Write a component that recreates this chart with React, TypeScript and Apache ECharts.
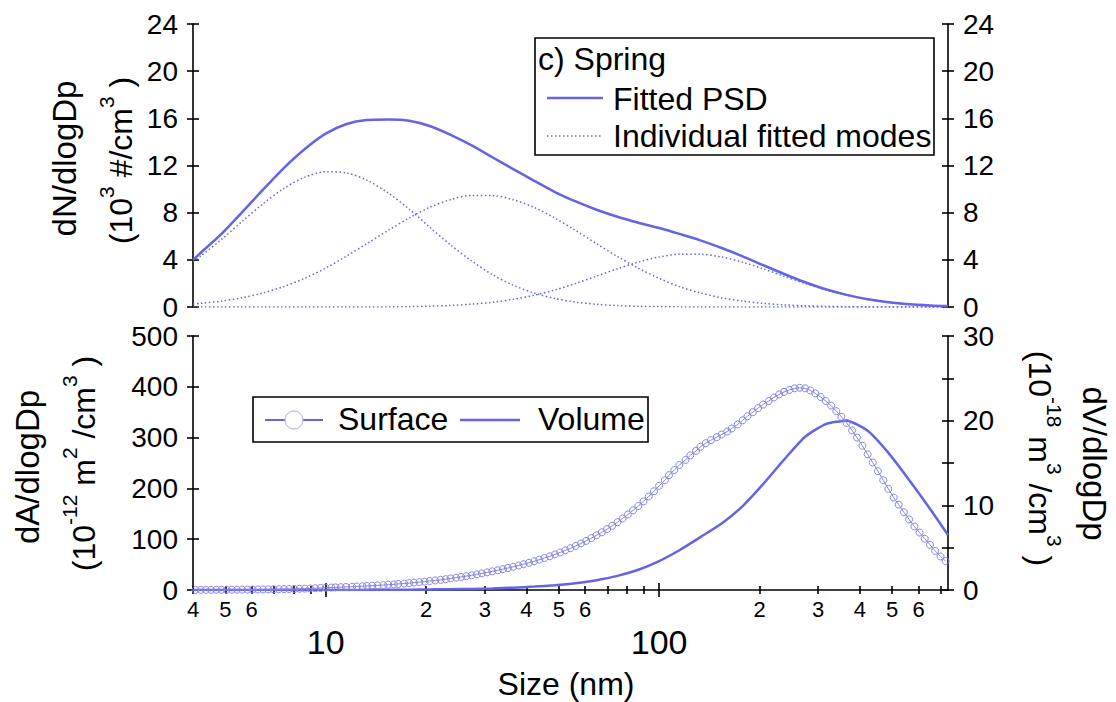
import React, { useEffect, useRef } from 'react';
import * as echarts from 'echarts';

const FONT = "'Liberation Sans', Arial, Helvetica, sans-serif";
const BLUE = '#6464E4';
const LAV = '#8686E2';

// ---- top panel: number size distribution (10^3 #/cm3) ----
const sizesCoarse = [4.0, 4.22, 4.87, 5.62, 6.49, 7.5, 8.66, 10.0, 11.5, 13.3, 15.4, 17.8, 20.5, 23.7, 27.4, 31.6, 36.5, 42.2, 48.7, 56.2, 64.9, 75.0, 86.6, 100, 115, 133, 154, 178, 205, 237, 274, 316, 365, 422, 487, 562, 649, 735];
const fittedPSD = [4.0, 4.6, 6.2, 8.05, 9.95, 11.8, 13.4, 14.7, 15.5, 15.85, 15.9, 15.8, 15.35, 14.6, 13.7, 12.7, 11.7, 10.7, 9.75, 8.95, 8.25, 7.65, 7.15, 6.7, 6.2, 5.65, 5.0, 4.3, 3.55, 2.8, 2.1, 1.5, 1.03, 0.66, 0.4, 0.23, 0.13, 0.08];
const mode1 = [3.84, 4.32, 5.73, 7.27, 8.76, 10.07, 11.01, 11.47, 11.38, 10.75, 9.67, 8.3, 6.77, 5.26, 3.9, 2.75, 1.85, 1.18, 0.72, 0.42, 0.23, 0.12, 0.06, 0.03, 0.01, 0, 0, 0, 0, 0, 0, 0, 0, 0, 0, 0, 0, 0];
const mode2 = [0.25, 0.31, 0.5, 0.79, 1.19, 1.74, 2.44, 3.3, 4.29, 5.38, 6.5, 7.55, 8.45, 9.11, 9.46, 9.45, 9.1, 8.44, 7.54, 6.48, 5.37, 4.28, 3.29, 2.43, 1.73, 1.19, 0.78, 0.5, 0.31, 0.18, 0.1, 0.05, 0.03, 0.01, 0, 0, 0, 0];
const mode3 = [0, 0, 0, 0, 0, 0, 0, 0, 0, 0, 0.01, 0.03, 0.07, 0.13, 0.24, 0.4, 0.65, 1.0, 1.45, 2.0, 2.62, 3.24, 3.81, 4.24, 4.47, 4.47, 4.24, 3.8, 3.24, 2.61, 2.0, 1.45, 1.0, 0.65, 0.4, 0.23, 0.13, 0.08];

// ---- bottom panel: surface (10^-12 m2/cm3) and volume (10^-18 m3/cm3) ----
const sizesFine = [4.07, 4.22, 4.37, 4.53, 4.7, 4.87, 5.05, 5.23, 5.42, 5.62, 5.83, 6.04, 6.26, 6.49, 6.73, 6.98, 7.23, 7.5, 7.77, 8.06, 8.35, 8.66, 8.98, 9.31, 9.65,
  10.0, 10.4, 10.7, 11.1, 11.5, 12.0, 12.4, 12.9, 13.3, 13.8, 14.3, 14.9, 15.4, 16.0, 16.5, 17.2, 17.8, 18.4, 19.1, 19.8, 20.5, 21.3, 22.1, 22.9, 23.7, 24.6, 25.5, 26.4, 27.4, 28.4, 29.4, 30.5, 31.6, 32.8, 34.0, 35.2, 36.5, 37.9, 39.2, 40.7, 42.2, 43.7, 45.3, 47.0, 48.7, 50.5, 52.3, 54.2, 56.2, 58.3, 60.4, 62.6, 64.9, 67.3, 69.8, 72.3, 75.0, 77.7, 80.6, 83.5, 86.6, 89.8, 93.1, 96.5,
  100, 104, 107, 111, 115, 120, 124, 129, 133, 138, 143, 149, 154, 160, 165, 172, 178, 184, 191, 198, 205, 213, 221, 229, 237, 246, 255, 264, 274, 284, 294, 305, 316, 328, 340, 352, 365, 379, 392, 407, 422, 437, 453, 470, 487, 505, 523, 542, 562, 583, 604, 626, 649, 673, 698, 723];
const surface = [0.2, 0.25, 0.3, 0.35, 0.4, 0.45, 0.5, 0.55, 0.6, 0.7, 0.8, 0.9, 1.0, 1.1, 1.2, 1.4, 1.5, 1.7, 1.9, 2.1, 2.4, 2.7, 3.1, 3.5, 4.0,
  4.5, 4.8, 5.2, 5.6, 6.0, 6.4, 6.9, 7.4, 7.9, 8.5, 9.1, 9.7, 10.4, 11.1, 11.9, 12.7, 13.6, 14.5, 15.5, 16.5, 17.6, 18.8, 20.0, 21.3, 22.7, 24.2, 25.7, 27.3, 29.0, 30.8, 32.7, 34.7, 36.7, 38.8, 41.0, 43.3, 45.7, 48.2, 50.8, 53.5, 56.5, 59.6, 62.9, 66.3, 70.0, 73.9, 78.0, 82.3, 86.8, 91.6, 96.7, 102.0, 107.6, 113.6, 119.8, 126.4, 133.4, 140.8, 148.6, 156.8, 165.4, 174.5, 184.2, 194.3,
  205, 216, 226, 236, 246, 256, 265, 274, 282, 289, 295, 301, 306, 312, 318, 326, 334, 342, 350, 358, 365, 372, 379, 385, 390, 394, 397, 398, 397, 393, 387, 380, 372, 363, 352, 341, 329, 314, 300, 284, 267, 251, 234, 216, 199, 182, 168, 153, 139, 125, 113, 101, 89, 77, 66, 57];
const volume = [0, 0, 0, 0, 0, 0, 0, 0.01, 0.01, 0.02, 0.03, 0.04, 0.06, 0.09, 0.13, 0.19, 0.28, 0.4, 0.57, 0.81, 1.16, 1.67, 2.39, 3.42, 4.7, 6.25, 7.85, 9.9, 12.5, 15.4, 18.1, 19.6, 20.0, 18.8, 16.2, 13.0, 9.6, 6.5];

// ---- axis ticks ----
const X_MIN = 4;
const X_MAX = 735;
const xMinorTicks = [4, 5, 6, 7, 8, 9, 20, 30, 40, 50, 60, 70, 80, 90, 200, 300, 400, 500, 600, 700];
const xMajorTicks = [10, 100];
const xSmallLabels = [4, 5, 6, 20, 30, 40, 50, 60, 200, 300, 400, 500, 600];

const lg = (v: number) => Math.log10(v);
const pts = (xs: number[], ys: number[]) => xs.map((d, i) => [lg(d), ys[i]]);

const AX = { color: '#000', width: 1.6 };

function yPair(gridIndex: number, position: string, min: number, max: number, interval: number, formatter?: any) {
  const base = { type: 'value', gridIndex, position, min, max, interval, splitLine: { show: false } };
  return [
    {
      ...base,
      axisLine: { show: true, onZero: false, lineStyle: AX },
      axisTick: { show: true, inside: false, length: 6, lineStyle: AX },
      axisLabel: { show: true, fontSize: 28, lineHeight: 28, fontFamily: FONT, color: '#000', margin: 15, formatter },
    },
    {
      ...base,
      axisLine: { show: false },
      axisTick: { show: true, inside: true, length: 6, lineStyle: AX },
      axisLabel: { show: false },
    },
  ];
}

function xBottom(values: number[], len: number, inside: boolean, label: any) {
  return {
    type: 'value', gridIndex: 1, position: 'bottom', min: lg(X_MIN), max: lg(X_MAX),
    splitLine: { show: false },
    axisLine: { show: false, onZero: false },
    axisTick: { show: true, inside, length: len, customValues: values.map(lg), lineStyle: AX },
    axisLabel: label,
  };
}

const smallFmt = (v: number) => {
  const d = Math.round(Math.pow(10, v));
  const m = d >= 100 ? d / 100 : d >= 10 ? d / 10 : d;
  return String(m);
};

function sup(main: string[], sups: string[]) {
  let s = '';
  main.forEach((m, i) => {
    s += `{m|${m}}`;
    if (sups[i] !== undefined) s += `{s|${sups[i]}}`;
  });
  return s;
}
const RICH = {
  m: { fontSize: 32, lineHeight: 50, fontFamily: FONT, fill: '#000' },
  s: { fontSize: 21, lineHeight: 7, verticalAlign: 'top', fontFamily: FONT, fill: '#000' },
};

function titleText(x: number, y: number, rot: number, text: string, rich?: boolean) {
  return {
    type: 'text', x, y, rotation: rot, z: 100,
    style: rich
      ? { text, rich: RICH, align: 'center', verticalAlign: 'middle', fill: '#000', fontFamily: FONT, fontSize: 32 }
      : { text, align: 'center', verticalAlign: 'middle', fill: '#000', fontFamily: FONT, fontSize: 33 },
  };
}

function plainText(x: number, y: number, text: string, size: number) {
  return { type: 'text', x, y, z: 101, style: { text, align: 'left', verticalAlign: 'middle', fill: '#000', fontFamily: FONT, fontSize: size } };
}

export default function App() {
  const ref = useRef<HTMLDivElement>(null);
  useEffect(() => {
    if (!ref.current) return;
    const chart = echarts.init(ref.current, null, { renderer: 'svg' });
    const option: any = {
      animation: false,
      backgroundColor: '#fff',
      textStyle: { fontFamily: FONT },
      grid: [
        { left: 193, right: 168, top: 24, height: 283, containLabel: false, outerBoundsMode: 'none' },
        { left: 193, right: 168, top: 336, height: 254, containLabel: false, outerBoundsMode: 'none' },
      ],
      xAxis: [
        { type: 'value', gridIndex: 0, min: lg(X_MIN), max: lg(X_MAX), show: false, splitLine: { show: false } },
        {
          ...xBottom(xMinorTicks, 4, false, {
            show: true, customValues: xSmallLabels.map(lg), formatter: smallFmt,
            fontSize: 22, lineHeight: 22, margin: 8, color: '#000', fontFamily: FONT,
          }),
          axisLine: { show: true, onZero: false, lineStyle: AX },
        },
        xBottom(xMinorTicks, 4, true, { show: false }),
        xBottom(xMajorTicks, 7, false, {
          show: true, customValues: xMajorTicks.map(lg), formatter: (v: number) => String(Math.round(Math.pow(10, v))),
          fontSize: 34, lineHeight: 34, margin: 35, color: '#000', fontFamily: FONT,
        }),
        xBottom(xMajorTicks, 7, true, { show: false }),
      ],
      yAxis: [
        ...yPair(0, 'left', 0, 24, 4),
        ...yPair(0, 'right', 0, 24, 4),
        ...yPair(1, 'left', 0, 500, 100),
        ...yPair(1, 'right', 0, 30, 5, (v: number) => (v % 10 === 0 ? String(v) : '')),
      ],
      series: [
        {
          type: 'line', name: 'Fitted PSD', xAxisIndex: 0, yAxisIndex: 0, data: pts(sizesCoarse, fittedPSD),
          showSymbol: false, smooth: 0.3, lineStyle: { color: BLUE, width: 2.5 }, itemStyle: { color: BLUE },
        },
        ...[mode1, mode2, mode3].map((m, i) => ({
          type: 'line', name: 'Individual fitted modes ' + (i + 1), xAxisIndex: 0, yAxisIndex: 0, data: pts(sizesCoarse, m),
          showSymbol: false, smooth: 0.3, lineStyle: { color: BLUE, width: 1.5, type: [1.5, 2.5] }, itemStyle: { color: BLUE },
        })),
        {
          type: 'line', name: 'Volume', xAxisIndex: 1, yAxisIndex: 6, data: pts(sizesCoarse, volume),
          showSymbol: false, smooth: 0.2, lineStyle: { color: BLUE, width: 2.5 }, itemStyle: { color: BLUE },
        },
        {
          type: 'line', name: 'Surface', xAxisIndex: 1, yAxisIndex: 4, data: pts(sizesFine, surface),
          symbol: 'circle', symbolSize: 7, showSymbol: true,
          itemStyle: { color: 'rgba(255,255,255,0)', borderColor: LAV, borderWidth: 1 },
          lineStyle: { color: LAV, width: 1 },
        },
      ],
      graphic: [
        // axis titles
        titleText(64.5, 158.5, Math.PI / 2, 'dN/dlogDp'),
        titleText(121, 160.5, Math.PI / 2, sup(['(10', ' #/cm', ' )'], ['3', '3']), true),
        titleText(27.5, 467, Math.PI / 2, 'dA/dlogDp'),
        titleText(84, 463.5, Math.PI / 2, sup(['(10', ' m', ' /cm', ' )'], ['-12', '2', '3']), true),
        titleText(1094, 463.5, -Math.PI / 2, 'dV/dlogDp'),
        titleText(1040, 458.5, -Math.PI / 2, sup(['(10', ' m', ' /cm', ' )'], ['-18', '3', '3']), true),
        { type: 'text', x: 566, y: 684, z: 100, style: { text: 'Size (nm)', align: 'center', verticalAlign: 'middle', fill: '#000', fontFamily: FONT, fontSize: 32 } },
        // top legend
        { type: 'rect', z: 100, shape: { x: 535, y: 38, width: 399, height: 117 }, style: { fill: '#fff', stroke: '#000', lineWidth: 1.6 } },
        plainText(538, 59, 'c) Spring', 32),
        { type: 'line', z: 101, shape: { x1: 547, y1: 98, x2: 603, y2: 98 }, style: { stroke: BLUE, lineWidth: 2.5 } },
        plainText(613, 99, 'Fitted PSD', 32),
        { type: 'line', z: 101, shape: { x1: 547, y1: 136, x2: 603, y2: 136 }, style: { stroke: BLUE, lineWidth: 1.5, lineDash: [1.5, 2.5] } },
        plainText(613, 136, 'Individual fitted modes', 32),
        // bottom legend
        { type: 'rect', z: 100, shape: { x: 253, y: 397, width: 395, height: 45 }, style: { fill: '#fff', stroke: '#000', lineWidth: 1.6 } },
        { type: 'line', z: 101, shape: { x1: 265, y1: 420, x2: 323, y2: 420 }, style: { stroke: BLUE, lineWidth: 2 } },
        { type: 'circle', z: 102, shape: { cx: 294, cy: 420, r: 9 }, style: { fill: '#fff', stroke: '#A8A8E6', lineWidth: 1 } },
        plainText(338, 419, 'Surface', 32),
        { type: 'line', z: 101, shape: { x1: 460, y1: 420, x2: 520, y2: 420 }, style: { stroke: BLUE, lineWidth: 2.5 } },
        plainText(538, 419, 'Volume', 32),
      ],
    };
    chart.setOption(option);
    return () => chart.dispose();
  }, []);
  return <div ref={ref} style={{ position: 'fixed', left: 0, top: 0, width: 1116, height: 702, background: '#fff' }} />;
}
